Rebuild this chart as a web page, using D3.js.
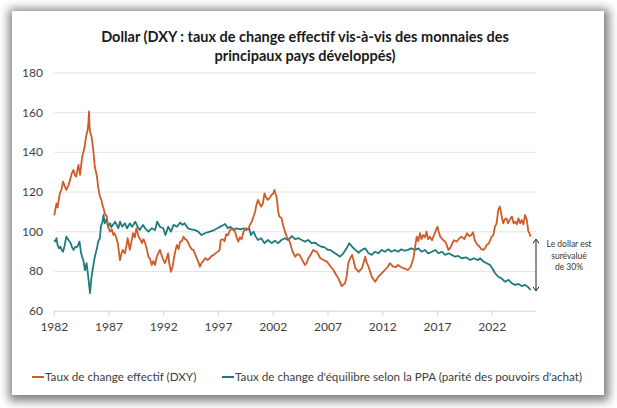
<!DOCTYPE html>
<html lang="fr">
<head>
<meta charset="UTF-8">
<script src="https://cdn.jsdelivr.net/npm/d3@7"></script>
<style>
  body { margin: 0; background: #fff; }
  #card {
    position: absolute; left: 12px; top: 11px; width: 592px; height: 384px;
    background: #fff; box-shadow: 1px 2px 9px 4px rgba(0,0,0,0.5);
  }
  #chart { position: absolute; left: 0; top: 0; }
  text { font-family: Lato, "Open Sans", sans-serif; }
</style>
</head>
<body>
<div id="card"></div>
<div id="chart"></div>
<script>
// Taux de change effectif (DXY) : [date décimale, valeur]
const dxy = [
  [1982.0,108],[1982.1,111],[1982.2,114],[1982.3,112],[1982.5,119],[1982.65,121],[1982.8,125],[1983.0,122],
  [1983.1,120.8],[1983.3,123.3],[1983.45,126],[1983.6,129.2],[1983.75,130.9],[1983.9,128],[1984.0,127.5],
  [1984.2,133.4],[1984.35,128.4],[1984.45,133],[1984.55,137.6],[1984.75,141.8],[1984.9,147.7],[1985.05,151],
  [1985.12,155],[1985.17,160.3],[1985.22,153],[1985.26,150.2],[1985.4,147.7],[1985.56,141],[1985.7,132.5],
  [1985.9,127.5],[1986.0,122.5],[1986.17,117.4],[1986.3,115.8],[1986.4,113],[1986.5,111.6],[1986.6,109.1],
  [1986.8,107.4],[1986.9,102.3],[1987.1,99.8],[1987.25,101],[1987.4,98.1],[1987.5,99],[1987.65,97],[1987.8,94],
  [1988.0,85.5],[1988.1,88],[1988.25,90.6],[1988.45,88.9],[1988.6,93],[1988.7,96.5],[1988.9,90.6],[1989.05,95],
  [1989.2,99],[1989.35,97],[1989.5,101.5],[1989.7,97.3],[1989.85,96],[1990.0,94],[1990.15,96],[1990.3,94],
  [1990.45,91],[1990.6,87.2],[1990.75,86],[1990.9,83],[1991.05,85],[1991.2,83],[1991.35,87],[1991.5,88.9],
  [1991.65,90.6],[1991.8,88],[1991.9,86.4],[1992.1,83.9],[1992.25,86],[1992.4,88.9],[1992.5,84],[1992.65,79.6],
  [1992.8,82],[1992.9,85.5],[1993.05,90],[1993.2,93.1],[1993.35,91],[1993.5,94.8],[1993.65,95],[1993.8,97.3],
  [1993.95,96],[1994.1,95.6],[1994.25,94],[1994.4,92.2],[1994.55,91],[1994.7,90.6],[1994.9,88],[1995.05,86],
  [1995.2,84],[1995.3,82.2],[1995.45,84],[1995.6,85],[1995.8,86.5],[1996.0,85.5],[1996.2,86.4],[1996.35,87.5],
  [1996.55,88],[1996.75,89],[1997.0,90],[1997.1,90.6],[1997.2,95.6],[1997.4,96],[1997.55,95],[1997.7,98.5],
  [1997.85,98],[1998.05,100.6],[1998.3,101.5],[1998.5,100],[1998.65,97],[1998.8,94.8],[1998.95,97],[1999.1,96],
  [1999.3,100],[1999.5,101.5],[1999.7,101],[1999.85,103],[2000.05,105],[2000.2,107.4],[2000.35,110],[2000.45,113],
  [2000.6,115.8],[2000.75,114],[2000.9,112.4],[2001.05,114],[2001.2,119.1],[2001.35,117],[2001.5,115.8],
  [2001.7,117],[2001.85,118.3],[2002.0,119],[2002.1,120.8],[2002.2,119],[2002.3,117.4],[2002.45,110],
  [2002.55,107.4],[2002.77,106.5],[2002.9,103],[2003.07,99.8],[2003.25,97],[2003.5,94.8],[2003.75,90],
  [2004.0,87.2],[2004.2,88.5],[2004.4,88.1],[2004.6,86],[2004.9,83],[2005.05,84],[2005.2,86.4],[2005.4,88],
  [2005.65,90.6],[2005.8,90],[2005.96,89.7],[2006.15,88],[2006.3,86.4],[2006.6,85.5],[2006.9,84.7],[2007.2,82.5],
  [2007.5,80.5],[2007.75,78],[2007.95,76.3],[2008.25,72.4],[2008.55,73.8],[2008.7,77],[2008.85,83.9],[2009.0,86],
  [2009.2,88.1],[2009.35,85],[2009.5,81.4],[2009.8,79.6],[2010.1,81.4],[2010.25,84],[2010.4,87.2],[2010.55,84],
  [2010.7,82.2],[2011.0,77.1],[2011.3,74.6],[2011.6,77.1],[2011.9,78.8],[2012.2,80.5],[2012.45,82],[2012.66,83.9],
  [2012.95,82.2],[2013.2,82],[2013.4,83],[2013.65,82],[2013.9,81.4],[2014.3,80.5],[2014.55,82],[2014.8,86.4],
  [2015.1,97.3],[2015.25,95],[2015.4,99],[2015.55,96],[2015.7,98.1],[2015.85,97],[2016.0,99.8],[2016.15,96],
  [2016.3,97.3],[2016.5,95.5],[2016.75,99],[2017.0,102.3],[2017.1,100],[2017.25,97.3],[2017.45,96],[2017.7,94.8],
  [2017.85,93],[2018.0,90.6],[2018.15,91.5],[2018.3,93.1],[2018.5,95.5],[2018.75,94.8],[2019.0,96.5],[2019.2,97.3],
  [2019.45,96],[2019.7,99],[2019.9,97.5],[2020.1,98.1],[2020.25,99.5],[2020.4,95.6],[2020.6,93.5],[2020.85,92.2],
  [2021.0,91],[2021.2,90.6],[2021.35,91.5],[2021.5,93.1],[2021.7,94],[2021.95,97.3],[2022.1,98],[2022.25,102.3],
  [2022.4,104],[2022.55,110.7],[2022.7,112.4],[2022.85,108],[2023.0,104],[2023.15,106],[2023.3,106.5],
  [2023.45,104],[2023.6,105.7],[2023.8,107.4],[2023.95,104],[2024.1,104.8],[2024.25,103.5],[2024.4,106.5],
  [2024.55,104],[2024.7,105.7],[2024.85,103.5],[2025.0,108.2],[2025.15,106],[2025.3,100],[2025.4,99],[2025.5,97.3]
];

// Taux de change d'équilibre selon la PPA
const ppa = [
  [1982.0,95.6],[1982.1,94.8],[1982.2,96.5],[1982.3,93],[1982.45,91.4],[1982.55,92.2],[1982.7,90.5],[1982.8,89.7],
  [1982.95,93],[1983.1,97.3],[1983.3,95.6],[1983.5,94],[1983.6,92.2],[1983.75,90.6],[1983.9,92],[1984.1,92.2],
  [1984.3,94.8],[1984.45,88.9],[1984.55,87],[1984.65,85.5],[1984.8,80.5],[1984.95,83.9],[1985.1,77.1],[1985.2,72],
  [1985.26,68.8],[1985.33,73],[1985.4,77.1],[1985.55,82.2],[1985.7,87.2],[1985.9,91.4],[1986.0,94.8],[1986.17,96.5],
  [1986.25,102.3],[1986.4,104.8],[1986.5,108.2],[1986.6,104],[1986.7,105],[1986.8,106.5],[1986.9,102.3],[1987.1,104],
  [1987.2,102],[1987.35,103.2],[1987.55,104.8],[1987.7,103.2],[1987.85,101.5],[1988.0,104.8],[1988.2,102.3],
  [1988.45,104],[1988.65,101.5],[1988.9,104],[1989.1,102.3],[1989.4,104.8],[1989.6,102.3],[1989.8,100.6],
  [1990.1,103.2],[1990.3,101.5],[1990.6,99.8],[1990.9,101.5],[1991.2,100.6],[1991.4,104.8],[1991.65,102.3],
  [1991.95,101.5],[1992.15,98.1],[1992.4,102.3],[1992.65,99.8],[1992.9,103.2],[1993.2,102.3],[1993.5,104.4],
  [1993.7,103.2],[1993.9,104],[1994.2,101.5],[1994.5,101],[1994.85,100.6],[1995.15,99.8],[1995.45,98.1],
  [1995.75,99],[1996.0,99.5],[1996.2,99.8],[1996.6,100.6],[1996.9,101.5],[1997.3,102.7],[1997.6,103.7],
  [1997.85,101.5],[1998.1,102.3],[1998.35,100.6],[1998.65,101.5],[1999.0,101],[1999.3,101.5],[1999.55,100.6],
  [1999.8,101.5],[1999.95,98.1],[2000.2,99.8],[2000.4,97.3],[2000.6,95.6],[2000.9,96.5],[2001.2,94],[2001.5,95.6],
  [2001.85,94],[2002.15,95.3],[2002.45,94],[2002.75,95.6],[2003.05,96.5],[2003.35,95.6],[2003.7,97.6],[2004.0,96],
  [2004.3,96.5],[2004.6,95.6],[2004.9,94.8],[2005.2,95.6],[2005.5,94],[2005.8,94.3],[2006.1,93.1],[2006.4,92.2],
  [2006.7,91.9],[2007.0,90.6],[2007.2,90.6],[2007.65,88.9],[2008.1,87.2],[2008.4,88.9],[2008.7,91.4],[2008.95,94],
  [2009.2,92.2],[2009.5,90.6],[2009.8,89.2],[2010.1,90.6],[2010.4,91.4],[2010.7,88.9],[2011.0,88.1],[2011.3,89.7],
  [2011.6,88.9],[2011.9,90.6],[2012.2,89.7],[2012.5,90.9],[2012.8,89.7],[2013.1,90.6],[2013.4,89.7],[2013.7,90.9],
  [2014.0,90.2],[2014.3,90.6],[2014.6,91.4],[2014.95,90.6],[2015.25,91.4],[2015.55,89.7],[2015.85,90.6],
  [2016.15,88.9],[2016.5,89.7],[2016.8,90.6],[2017.1,88.9],[2017.4,89.7],[2017.7,88.1],[2018.0,88.9],[2018.3,88.1],
  [2018.6,87.2],[2018.9,87.6],[2019.2,86.4],[2019.6,86.9],[2020.0,85.5],[2020.3,86.4],[2020.7,85.5],[2020.9,86.4],
  [2021.2,84.7],[2021.5,83.9],[2021.8,83],[2022.0,81.4],[2022.25,79],[2022.55,77.1],[2022.85,76.3],[2023.15,74.6],
  [2023.5,75.5],[2023.8,73.8],[2024.1,73],[2024.4,73.5],[2024.7,72.4],[2025.0,73],[2025.3,71.8],[2025.5,70.4]
];

const xTicks = [1982, 1987, 1992, 1997, 2002, 2007, 2012, 2017, 2022];
const yTicks = [60, 80, 100, 120, 140, 160, 180];
const legendLabels = ["Taux de change effectif (DXY)", "Taux de change d'équilibre selon la PPA (parité des pouvoirs d'achat)"];
const titleLines = ["Dollar (DXY : taux de change effectif vis-à-vis des monnaies des", "principaux pays développés)"];
const noteLines = ["Le dollar est", "surévalué", "de 30%"];
const gap = [96, 70]; // écart en 2025 annoté par la flèche

const orange = "#cf5c26", teal = "#1f7a7c";

const width = 617, height = 408;
const svg = d3.select("#chart").append("svg")
    .attr("width", width)
    .attr("height", height);

const x = d3.scaleLinear().domain([1982, 2026]).range([54.3, 536]);
const y = d3.scaleLinear().domain([60, 180]).range([310.7, 72.4]);

// titre
svg.append("g").selectAll("text")
    .data(titleLines)
    .join("text")
    .attr("x", 305)
    .attr("y", (d, i) => 42 + i * 19)
    .attr("text-anchor", "middle")
    .attr("font-size", 14.5)
    .attr("font-weight", "bold")
    .attr("fill", "#1a1a1a")
    .text(d => d);

// grille
svg.append("g").selectAll("line")
    .data(yTicks)
    .join("line")
    .attr("x1", x(1982)).attr("x2", x(2026))
    .attr("y1", d => y(d) + 0.5).attr("y2", d => y(d) + 0.5)
    .attr("stroke", d => d === 60 ? "#d4d4d4" : "#e4e4e4")
    .attr("stroke-width", 1);

svg.append("g").selectAll("text")
    .data(yTicks)
    .join("text")
    .attr("x", 43)
    .attr("y", d => y(d) + 4.5)
    .attr("text-anchor", "end")
    .attr("font-size", 12)
    .attr("fill", "#404040")
    .text(d => d);

// axe x
svg.append("g").selectAll("line")
    .data(xTicks)
    .join("line")
    .attr("x1", d => x(d)).attr("x2", d => x(d))
    .attr("y1", y(60)).attr("y2", y(60) + 5)
    .attr("stroke", "#d4d4d4");

svg.append("g").selectAll("text")
    .data(xTicks)
    .join("text")
    .attr("x", d => x(d))
    .attr("y", 331)
    .attr("text-anchor", "middle")
    .attr("font-size", 12)
    .attr("fill", "#404040")
    .text(d => d);

// courbes
const line = d3.line().x(d => x(d[0])).y(d => y(d[1]));

svg.append("path")
    .datum(ppa)
    .attr("d", line)
    .attr("fill", "none")
    .attr("stroke", teal)
    .attr("stroke-width", 1.8)
    .attr("stroke-linejoin", "round");

svg.append("path")
    .datum(dxy)
    .attr("d", line)
    .attr("fill", "none")
    .attr("stroke", orange)
    .attr("stroke-width", 1.8)
    .attr("stroke-linejoin", "round");

// flèche d'écart
const ax = x(2026);
const note = svg.append("g").attr("stroke", "#222").attr("fill", "none").attr("stroke-width", 1);
note.append("line").attr("x1", ax).attr("x2", ax).attr("y1", y(gap[0])).attr("y2", y(gap[1]));
note.append("path").attr("d", `M${ax - 3},${y(gap[0]) + 4}L${ax},${y(gap[0])}L${ax + 3},${y(gap[0]) + 4}`);
note.append("path").attr("d", `M${ax - 3},${y(gap[1]) - 4}L${ax},${y(gap[1])}L${ax + 3},${y(gap[1]) - 4}`);

svg.append("g").selectAll("text")
    .data(noteLines)
    .join("text")
    .attr("x", 569)
    .attr("y", (d, i) => 247 + i * 11.5)
    .attr("text-anchor", "middle")
    .attr("font-size", 8.5)
    .attr("fill", "#333")
    .text(d => d);

// légende
const legend = svg.append("g");
const lx = [32, 222];
legendLabels.forEach((label, i) => {
    legend.append("line")
        .attr("x1", lx[i]).attr("x2", lx[i] + 12)
        .attr("y1", 377).attr("y2", 377)
        .attr("stroke", i === 0 ? orange : teal)
        .attr("stroke-width", 2);
    legend.append("text")
        .attr("x", lx[i] + 13)
        .attr("y", 381)
        .attr("font-size", 11.7)
        .attr("fill", "#404040")
        .text(label);
});
</script>
</body>
</html>
